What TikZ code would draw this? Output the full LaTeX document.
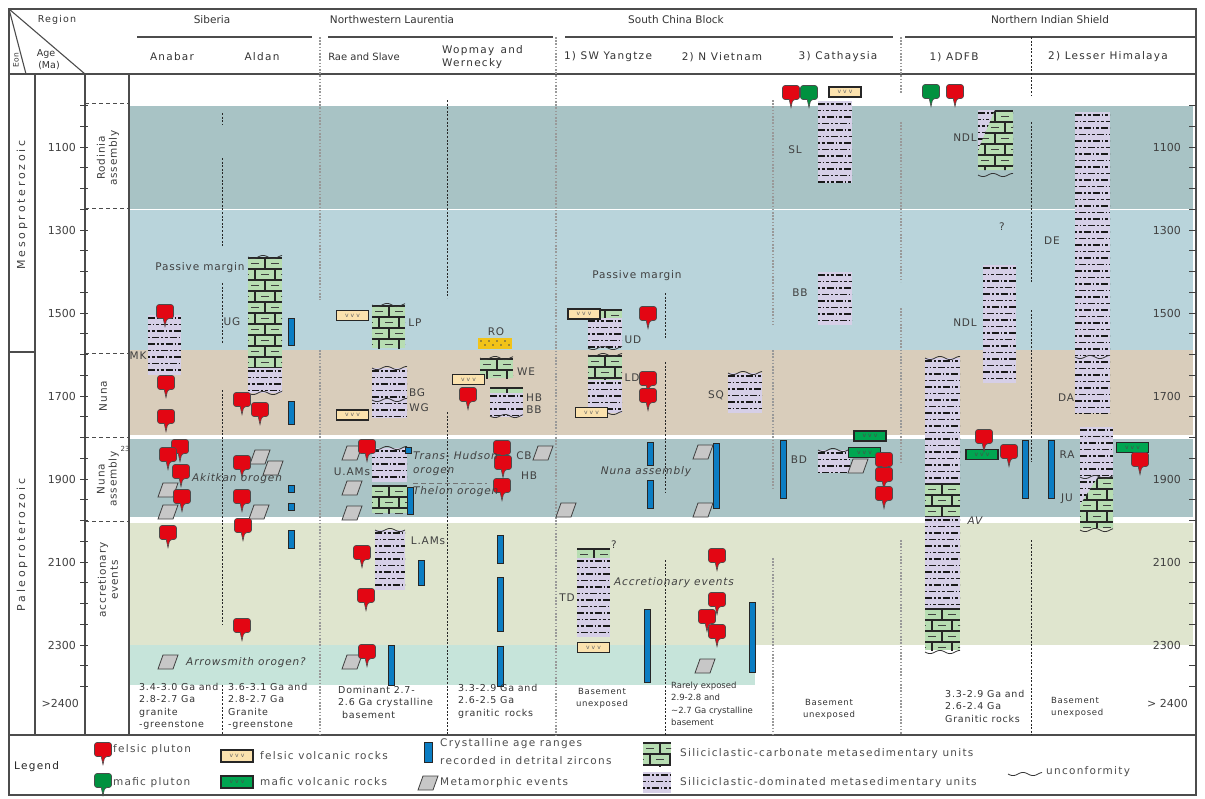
\documentclass[tikz,border=0pt]{standalone}
\usepackage{fontspec}
\setmainfont{DejaVu Sans}
\newfontfamily\spacedfont[LetterSpace=8]{DejaVu Sans}
\newfontfamily\widefont[LetterSpace=12]{DejaVu Sans}
\newfontfamily\eonfont[LetterSpace=25]{DejaVu Sans}
\usepackage{tikz}
\usetikzlibrary{positioning}

\definecolor{rodinia}{HTML}{A8C3C5}
\definecolor{pasiva}{HTML}{B9D4DB}
\definecolor{nunabg}{HTML}{D9CDBB}
\definecolor{nunaasm}{HTML}{AAC4C6}
\definecolor{acrec}{HTML}{DFE5CE}
\definecolor{arrowbg}{HTML}{C6E4DA}
\definecolor{silcol}{HTML}{D6CFE7}
\definecolor{carbcol}{HTML}{B7DDB2}
\definecolor{felred}{HTML}{E30613}
\definecolor{mafgreen}{HTML}{00913F}
\definecolor{volctan}{HTML}{FBE2AE}
\definecolor{volcgreen}{HTML}{00A651}
\definecolor{zircblue}{HTML}{0B7DC3}
\definecolor{conglo}{HTML}{F2C318}

% unidad siliciclastica (x1,y1,x2,y2)
\newcommand{\silic}[5][]{%
  \def\shp{#1}\ifx\shp\empty\def\shp{(#2,#3) rectangle (#4,#5)}\fi
  \fill[silcol] \shp;
  \begin{scope}
    \clip \shp;
    \pgfmathtruncatemacro\nr{(#5-#3)/6.5}
    \foreach \kk in {0,...,\nr}{
      \pgfmathsetmacro\yy{#3+3+6.5*\kk}
      \pgfmathsetmacro\ph{mod(\kk,4)*4.5}
      \draw[silrow, dash phase=\ph pt] (#2,\yy) -- (#4,\yy);
    }
  \end{scope}}
% unidad carbonatada (ladrillos)
\newcommand{\carbo}[5][]{%
  \def\shp{#1}\ifx\shp\empty\def\shp{(#2,#3) rectangle (#4,#5)}\fi
  \fill[carbcol] \shp;
  \begin{scope}
    \clip \shp;
    \pgfmathtruncatemacro\nr{(#5-#3)/11}
    \foreach \kk in {0,...,\nr}{
      \pgfmathsetmacro\yy{#3+1+11*\kk}
      \draw[brick] (#2,\yy) -- (#4,\yy);
      \foreach \jj in {-1,0,1,2}{
        \pgfmathsetmacro\xx{#2-3+mod(\kk,2)*10+20*\jj}
        \draw[brick] (\xx,\yy) -- (\xx,\yy+11);
        \draw[brickdash] (\xx+6,\yy+5.5) -- (\xx+14,\yy+5.5);
      }
    }
  \end{scope}}
\newcommand{\fel}[2]{\pic at (#1,#2) {pluton=felred};}
\newcommand{\maf}[2]{\pic at (#1,#2) {pluton=mafgreen};}
\newcommand{\zr}[3]{\draw[zirc] (#1-3,#2) rectangle (#1+3,#3);}
\newcommand{\mt}[2]{\draw[metam] (#1-10,#2+7) -- (#1-5,#2-7) -- (#1+10,#2-7) -- (#1+5,#2+7) -- cycle;}
\newcommand{\unc}[3]{\draw[uncline, domain=#1:#2, samples=25, smooth, variable=\x] plot ({\x},{#3+1.6*sin(18*(\x-#1))});}

\begin{document}
\begin{tikzpicture}[x=1pt, y=-1pt,
  pics/pluton/.style={code={\draw[fill=#1, draw=black!70, line width=0.6pt, rounded corners=2.5pt]
    (-1.8,6.5) -- (-8.5,6.5) -- (-8.5,-7.5) -- (8.5,-7.5) -- (8.5,6.5) -- (1.8,6.5) [sharp corners] -- (0,14.5) -- cycle;}},
  fvolc/.style={draw=black!85, line width=1.1pt, fill=volctan, minimum width=32pt, minimum height=10pt, inner sep=0pt, font=\fontsize{6}{6}\selectfont, text=black!60},
  mvolc/.style={fvolc, fill=volcgreen, text=black!70},
  zirc/.style={draw=black!85, line width=0.9pt, fill=zircblue},
  metam/.style={draw=black!75, line width=0.8pt, fill=black!22},
  silrow/.style={black!90, line width=1.35pt, dash pattern=on 7pt off 2pt on 1.5pt off 2pt on 3pt off 2pt},
  brick/.style={black!85, line width=1.1pt},
  brickdash/.style={black!75, line width=0.9pt},
  uncline/.style={black!80, line width=0.8pt},
  colsep/.style={black!40, line width=1.4pt, dash pattern=on 1.6pt off 1.6pt},
  subcolsep/.style={black!85, line width=1pt, dash pattern=on 2pt off 1.6pt},
  evdash/.style={black!70, line width=1pt, dash pattern=on 4pt off 3pt},
  frm/.style={black!70, line width=1.1pt},
  tk/.style={black!75, line width=0.9pt},
  hdr/.style={font=\fontsize{10.5}{12}\selectfont, text=black!80, inner sep=0pt},
  subhdr/.style={font=\widefont\fontsize{10.5}{13}\selectfont, text=black!80, inner sep=0pt},
  tkl/.style={font=\fontsize{11}{12}\selectfont, text=black!75, inner sep=0pt},
  lbl/.style={font=\spacedfont\fontsize{10.5}{12}\selectfont, text=black!75, inner sep=0pt},
  itl/.style={font=\spacedfont\fontsize{10.5}{12}\selectfont\itshape, text=black!75, inner sep=0pt},
  basetxt/.style={font=\spacedfont\fontsize{9.5}{12.3}\selectfont, text=black!80, inner sep=0pt, align=left, anchor=north west},
  legtxt/.style={font=\widefont\fontsize{10.5}{12}\selectfont, text=black!70, inner sep=0pt, anchor=west},
  evt/.style={font=\spacedfont\fontsize{10.5}{12}\selectfont, text=black!75, inner sep=0pt, rotate=90, align=center}
]
\useasboundingbox (0,0) rectangle (1205,798);

% bandas de tiempo
\fill[rodinia] (129,106) rectangle (1193,208.5);
\fill[pasiva] (129,209.5) rectangle (1193,350);
\fill[nunabg] (129,350) rectangle (1193,435);
\fill[nunaasm] (129,439) rectangle (1193,517);
\fill[acrec] (129,523) rectangle (1193,645);
\fill[arrowbg] (129,645) rectangle (755,685);

% marco y encabezado
\draw[frm] (9,9) rectangle (1196,795);
\draw[frm] (9,74) -- (1196,74);
\draw[frm] (9,735) -- (1196,735);
\draw[frm] (9,9) -- (85,74);
\draw[frm] (9,9) -- (26,74);
\draw[frm] (35,74) -- (35,735);
\draw[frm] (9,352) -- (35,352);
\draw[frm] (85,74) -- (85,735); % eje edad
\draw[frm] (129,74) -- (129,735);
\draw[frm] (137,37) -- (312,37);
\draw[frm] (328,37) -- (553,37);
\draw[frm] (565,37) -- (893,37);
\draw[frm] (905,37) -- (1196,37);
\node[subhdr, font=\widefont\fontsize{9.5}{11}\selectfont] (region) at (57,20) {Region};
\node[subhdr, font=\fontsize{7.5}{9}\selectfont, rotate=90] (eon) at (16,60) {Eon};
\node[subhdr, font=\fontsize{9.5}{11}\selectfont] (age) at (46,54) {Age};
\node[subhdr, font=\fontsize{9.5}{11}\selectfont] (ma) at (49,66) {(Ma)};
\node[hdr] (siberia) at (212,20) {Siberia};
\node[hdr] (laurentia) at (392,20) {Northwestern Laurentia};
\node[hdr] (china) at (676,20) {South China Block};
\node[hdr] (india) at (1050,20) {Northern Indian Shield};
\node[subhdr] (anabar) at (172,57) {Anabar};
\node[subhdr] (aldan) at (262,57) {Aldan};
\node[subhdr, font=\fontsize{10}{12}\selectfont] (rae) at (364,57) {Rae and Slave};
\node[subhdr, align=left, anchor=west] (wopmay) at (442,57) {Wopmay\, and\\Wernecky};
\node[subhdr] (yangtze) at (608,57) {1) SW Yangtze};
\node[subhdr] (vietnam) at (722,57) {2) N Vietnam};
\node[subhdr] (cathaysia) at (838,57) {3) Cathaysia};
\node[subhdr] (adfb) at (954,57) {1) ADFB};
\node[subhdr] (himalaya) at (1108,57) {2) Lesser Himalaya};

% columna de eones y eventos
\node[evt, font=\eonfont\fontsize{11}{12}\selectfont] (meso) at (22,205) {Mesoproterozoic};
\node[evt, font=\eonfont\fontsize{11}{12}\selectfont] (paleo) at (22,545) {Paleoproterozoic};
\foreach \yy in {103,208,353,437,521}
  \draw[evdash] (85,\yy) -- (129,\yy);
\node[evt] (rodinia) at (108,158) {Rodinia\\assembly};
\node[evt] (nuna) at (103,396) {Nuna};
\node[evt] (nunaasm) at (108,479) {Nuna\\assembly};
\node[evt] (accr) at (108,580) {accretionary\\events};
\node[lbl, font=\fontsize{7}{8}\selectfont] (k23) at (125,449) {23};

% escala de edades
\foreach \a in {1000,1050,...,2400}{
  \pgfmathsetmacro\ty{147+(\a-1100)*0.415}
  \draw[tk] (80,\ty) -- (88,\ty);
  \draw[tk] (1189,\ty) -- (1196,\ty);
}
\foreach \a in {1100,1300,...,2300}{
  \pgfmathsetmacro\ty{147+(\a-1100)*0.415}
  \node[tkl, anchor=east] (l\a) at (76,\ty) {\a};
  \node[tkl, anchor=east] (r\a) at (1181,\ty) {\a};
}
\node[tkl, anchor=east] (l2400) at (79,703) {>2400};
\node[tkl, anchor=east] (r2400) at (1188,703) {> 2400};

% separadores de columnas
\draw[colsep] (320,37) -- (320,300);
\draw[colsep] (320,350) -- (320,735);
\draw[colsep] (556,37) -- (556,735);
\draw[colsep] (773,100) -- (773,325);
\draw[colsep] (773,350) -- (773,488);
\draw[colsep] (773,558) -- (773,735);
\draw[colsep] (901,37) -- (901,93);
\draw[colsep] (901,122) -- (901,282);
\draw[colsep] (901,308) -- (901,462);
\draw[colsep] (901,540) -- (901,735);
\draw[subcolsep] (222,113) -- (222,125);
\draw[subcolsep] (222,158) -- (222,247);
\draw[subcolsep] (222,283) -- (222,343);
\draw[subcolsep] (222,390) -- (222,625);
\draw[subcolsep] (222,685) -- (222,735);
\draw[subcolsep] (447,100) -- (447,298);
\draw[subcolsep] (447,412) -- (447,735);
\draw[subcolsep] (665,293) -- (665,338);
\draw[subcolsep] (665,362) -- (665,493);
\draw[subcolsep] (665,560) -- (665,735);
\draw[subcolsep] (1031,37) -- (1031,95);
\draw[subcolsep] (1031,122) -- (1031,283);
\draw[subcolsep] (1031,310) -- (1031,462);
\draw[subcolsep] (1031,540) -- (1031,735);

% Siberia
\silic{148}{315}{181}{375}
\carbo{248}{257}{282}{368}
\silic{248}{368}{282}{393}
\unc{248}{282}{257}
\unc{248}{282}{393}
\zr{291}{318}{345}
\zr{291}{401}{424}
\zr{291}{485}{492}
\zr{291}{503}{510}
\zr{291}{530}{548}
\mt{168}{490}
\mt{168}{512}
\mt{168}{662}
\mt{260}{457}
\mt{273}{468}
\mt{259}{512}
\fel{165}{312}
\fel{166}{383}
\fel{166}{417}
\fel{180}{447}
\fel{168}{455}
\fel{181}{472}
\fel{182}{497}
\fel{168}{533}
\fel{242}{400}
\fel{260}{410}
\fel{242}{463}
\fel{242}{497}
\fel{243}{526}
\fel{242}{626}
\node[lbl] (mk) at (138,356) {MK};
\node[lbl] (pm1) at (200,268) {Passive margin};
\node[lbl] (ug) at (232,322) {UG};
\node[itl] (akitkan) at (237,479) {Akitkan orogen};
\node[itl] (arrowsmith) at (246,663) {Arrowsmith orogen?};

% Laurentia noroccidental
\carbo{372}{305}{405}{348}
\unc{372}{405}{305}
\silic{372}{368}{407}{418}
\unc{372}{407}{368}
\unc{372}{407}{400}
\silic{372}{448}{407}{482}
\unc{372}{407}{448}
\carbo{372}{485}{407}{513}
\silic{375}{530}{405}{590}
\unc{375}{405}{530}
\fill[conglo] (478,338) rectangle (512,349);
\foreach \i in {0,...,7}
  \fill[black!70] (481+4*\i,{341+mod(\i,2)*4}) circle (0.8);
\carbo{480}{358}{513}{378}
\unc{480}{513}{358}
\carbo{490}{387}{523}{393}
\silic{490}{393}{523}{417}
\unc{490}{523}{416}
\node[fvolc] (v1) at (352.5,315.5) {v\,\,v\,\,v};
\node[fvolc] (v2) at (352.5,415) {v\,\,v\,\,v};
\node[fvolc] (v3) at (468.5,379.5) {v\,\,v\,\,v};
\zr{408}{447}{453}
\zr{410}{487}{514}
\zr{421}{560}{585}
\zr{391}{645}{685}
\zr{500}{535}{563}
\zr{500}{577}{631}
\zr{500}{646}{686}
\mt{352}{453}
\mt{352}{488}
\mt{352}{513}
\mt{352}{662}
\mt{543}{453}
\fel{367}{447}
\fel{362}{553}
\fel{366}{596}
\fel{367}{652}
\fel{468}{395}
\fel{502}{448}
\fel{503}{463}
\fel{502}{486}
\draw[black!55, line width=1pt, dash pattern=on 5pt off 3pt] (413,483) -- (487,483);
\node[lbl] (lp) at (415,323) {LP};
\node[lbl] (ro) at (496,332) {RO};
\node[lbl] (we) at (526,372) {WE};
\node[lbl] (bg) at (417,393) {BG};
\node[lbl] (wg) at (419,408) {WG};
\node[lbl] (hb1) at (534,398) {HB};
\node[lbl] (bb1) at (534,410) {BB};
\node[lbl] (uams) at (352,472) {U.AMs};
\node[itl, anchor=west] (trans) at (413,456) {Trans- Hudson};
\node[itl, anchor=west] (trans2) at (413,472) {orogen};
\node[itl, anchor=west] (thelon) at (413,492) {Thelon orogen};
\node[lbl] (cb) at (524,456) {CB};
\node[lbl] (hb2) at (529,476) {HB};
\node[lbl] (lams) at (428,541) {L.AMs};

% Bloque del Sur de China
\carbo{588}{309}{622}{318}
\silic{588}{318}{622}{348}
\unc{588}{622}{348}
\carbo{588}{355}{622}{380}
\unc{588}{622}{355}
\silic{588}{380}{622}{413}
\unc{588}{622}{413}
\silic{728}{373}{762}{413}
\unc{728}{762}{373}
\carbo{577}{548}{610}{558}
\silic{577}{558}{610}{637}
\silic{818}{101}{852}{183}
\silic{818}{272}{852}{325}
\silic{818}{450}{850}{473}
\unc{818}{850}{450}
\node[fvolc] (v4) at (584,314) {v\,\,v\,\,v};
\node[fvolc] (v5) at (591.5,412.5) {v\,\,v\,\,v};
\node[fvolc] (v6) at (593.5,647.5) {v\,\,v\,\,v};
\node[fvolc] (v7) at (845,92) {v\,\,v\,\,v};
\node[mvolc] (v8) at (870,436) {v\,\,v\,\,v};
\node[mvolc] (v9) at (864.5,452.5) {v\,\,v\,\,v};
\zr{650}{442}{465}
\zr{650}{480}{508}
\zr{647}{609}{682}
\zr{716}{443}{508}
\zr{752}{602}{672}
\zr{783}{440}{498}
\mt{566}{510}
\mt{703}{452}
\mt{703}{510}
\mt{705}{666}
\mt{858}{466}
\fel{648}{314}
\fel{648}{379}
\fel{648}{396}
\fel{717}{556}
\fel{717}{600}
\fel{707}{617}
\fel{717}{632}
\fel{791}{93}
\maf{809}{93}
\fel{884}{460}
\fel{884}{475}
\fel{884}{494}
\node[lbl] (pm2) at (637,276) {Passive margin};
\node[lbl] (ud) at (633,340) {UD};
\node[lbl] (ld) at (632,378) {LD};
\node[itl] (nunaasm2) at (646,472) {Nuna assembly};
\node[lbl] (sq) at (716,395) {SQ};
\node[lbl] (td) at (567,598) {TD};
\node[lbl] (q1) at (614,545) {?};
\node[itl] (accr2) at (674,583) {Accretionary events};
\node[lbl] (sl) at (795,150) {SL};
\node[lbl] (bb2) at (800,293) {BB};
\node[lbl] (bd) at (799,460) {BD};

% Escudo Indio del Norte
\silic{978}{110}{1013}{170}
\carbo[(995,110) -- (1013,110) -- (1013,170) -- (978,170) -- (978,150) -- cycle]{978}{110}{1013}{170}
\unc{978}{1013}{175}
\silic{983}{265}{1016}{383}
\silic{925}{358}{960}{483}
\carbo{925}{483}{960}{517}
\silic{925}{517}{960}{608}
\carbo{925}{608}{960}{650}
\unc{925}{960}{358}
\unc{925}{960}{652}
\silic{1075}{112}{1110}{413}
\unc{1075}{1110}{357}
\silic{1080}{427}{1113}{528}
\carbo[(1098,477) -- (1113,477) -- (1113,528) -- (1080,528) -- (1080,505) -- cycle]{1080}{477}{1113}{528}
\unc{1080}{1113}{477}
\unc{1080}{1113}{530}
\node[mvolc] (v10) at (982,454.5) {v\,\,v\,\,v};
\node[mvolc] (v11) at (1132.5,447.5) {v\,\,v\,\,v};
\zr{1025}{440}{498}
\zr{1051}{440}{498}
\maf{931}{92}
\fel{955}{92}
\fel{984}{437}
\fel{1009}{452}
\fel{1140}{460}
\node[lbl] (ndl1) at (965,138) {NDL};
\node[lbl] (q2) at (1002,227) {?};
\node[lbl] (ndl2) at (965,323) {NDL};
\node[itl] (av) at (975,521) {AV};
\node[lbl] (de) at (1052,241) {DE};
\node[lbl] (da) at (1066,398) {DA};
\node[lbl] (ra) at (1067,455) {RA};
\node[lbl] (ju) at (1067,499) {JU};

% basamento
\node[basetxt] (b1) at (139,683) {3.4-3.0 Ga and\\2.8-2.7 Ga\\granite\\-greenstone};
\node[basetxt] (b2) at (228,683) {3.6-3.1 Ga and\\2.8-2.7 Ga\\Granite\\-greenstone};
\node[basetxt] (b3) at (338,686) {Dominant 2.7-\\2.6 Ga crystalline\\\hspace{4pt}basement};
\node[basetxt] (b4) at (458,684) {3.3-2.9 Ga and\\2.6-2.5 Ga\\granitic\, rocks};
\node[basetxt, align=center, anchor=center, font=\spacedfont\fontsize{8.5}{12.3}\selectfont] (b5) at (602,698) {Basement\\unexposed};
\node[basetxt, font=\fontsize{8.5}{12.3}\selectfont] (b6) at (671,682) {Rarely exposed\\2.9-2.8 and\\\textasciitilde2.7 Ga crystalline\\basement};
\node[basetxt, align=center, anchor=center, font=\spacedfont\fontsize{8.5}{12.3}\selectfont] (b7) at (829,709) {Basement\\unexposed};
\node[basetxt] (b8) at (945,690) {3.3-2.9 Ga and\\2.6-2.4 Ga\\Granitic rocks};
\node[basetxt, font=\spacedfont\fontsize{8.5}{12.3}\selectfont] (b9) at (1051,697) {Basement\\unexposed};

% leyenda
\node[legtxt, text=black!85] (legend) at (14,767) {Legend};
\fel{103}{750}
\maf{103}{781}
\node[legtxt] (lfel) at (113,750) {felsic pluton};
\node[legtxt] (lmaf) at (113,783) {mafic pluton};
\node[fvolc, minimum height=12pt] (lv1) at (237,756) {v\,\,v\,\,v};
\node[mvolc, minimum height=12pt] (lv2) at (237,782) {v\,\,v\,\,v};
\node[legtxt] (lfv) at (260,756) {felsic volcanic rocks};
\node[legtxt] (lmv) at (260,782) {mafic volcanic rocks};
\draw[zirc] (424,742) rectangle (432,762);
\node[legtxt] (lzr1) at (440,744) {Crystalline age ranges};
\node[legtxt] (lzr2) at (440,761) {recorded in detrital zircons};
\mt{428}{783}
\node[legtxt] (lmt) at (440,783) {Metamorphic events};
\carbo{643}{742}{671}{766}
\silic{643}{772}{671}{793}
\node[legtxt] (lcarb) at (680,754) {Siliciclastic-carbonate metasedimentary units};
\node[legtxt] (lsil) at (680,783) {Siliciclastic-dominated metasedimentary units};
\unc{1008}{1042}{774}
\node[legtxt] (lunc) at (1046,772) {unconformity};
\end{tikzpicture}
\end{document}
